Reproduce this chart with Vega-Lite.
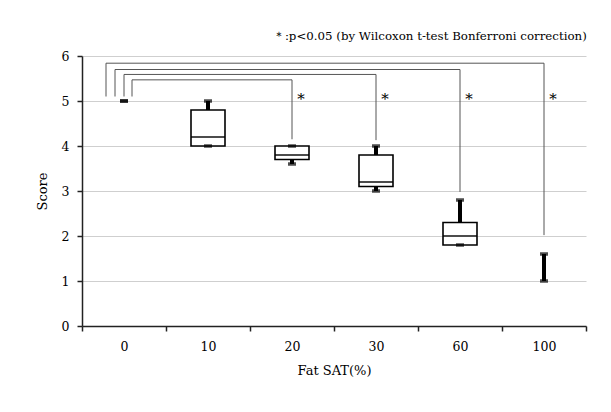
{
  "$schema": "https://vega.github.io/schema/vega-lite/v6.json",
  "width": 504,
  "height": 270,
  "autosize": "none",
  "padding": {"left": 82, "top": 56, "right": 25, "bottom": 86},
  "background": "white",
  "config": {"font": "DejaVu Serif", "view": {"stroke": null}},
  "title": {"text": "＊:p<0.05 (by Wilcoxon t-test Bonferroni correction)", "anchor": "end", "fontSize": 11.8, "fontWeight": "normal", "font": "DejaVu Serif", "color": "#000", "offset": 7},
  "datasets": {
    "boxes": [
      {"sat": "0", "min": 5, "q1": null, "median": null, "q3": null, "max": 5},
      {"sat": "10", "min": 4, "q1": 4, "median": 4.2, "q3": 4.8, "max": 5},
      {"sat": "20", "min": 3.6, "q1": 3.7, "median": 3.8, "q3": 4, "max": 4},
      {"sat": "30", "min": 3, "q1": 3.1, "median": 3.2, "q3": 3.8, "max": 4},
      {"sat": "60", "min": 1.8, "q1": 1.8, "median": 2, "q3": 2.3, "max": 2.8},
      {"sat": "100", "min": 1, "q1": null, "median": null, "q3": null, "max": 1.6}
    ],
    "brackets": [
      {"from": "0", "target": "20", "lvl": 4, "top": 5.47, "bottom": 4.15, "start": 5.1},
      {"from": "0", "target": "30", "lvl": 3, "top": 5.59, "bottom": 4.13, "start": 5.1},
      {"from": "0", "target": "60", "lvl": 2, "top": 5.7, "bottom": 2.98, "start": 5.1},
      {"from": "0", "target": "100", "lvl": 1, "top": 5.84, "bottom": 2.02, "start": 5.1}
    ]
  },
  "encoding": {
    "x": {
      "field": "sat",
      "type": "nominal",
      "scale": {"domain": ["0", "10", "20", "30", "60", "100"], "paddingInner": 0, "paddingOuter": 0},
      "axis": {
        "title": "Fat SAT(%)", "titleFontSize": 13, "titleFontWeight": "normal", "titleColor": "#000", "titlePadding": 12,
        "labelAngle": 0, "labelFontSize": 12.5, "labelColor": "#000", "labelPadding": 9,
        "tickBand": "extent", "tickSize": 5, "tickWidth": 1.5, "tickColor": "#222",
        "domainColor": "#222", "domainWidth": 1.5, "grid": false
      }
    }
  },
  "layer": [
    {
      "data": {"name": "boxes"},
      "layer": [
        {"mark": {"type": "rule", "color": "#000", "strokeWidth": 4}, "encoding": {"y": {"field": "min", "type": "quantitative", "scale": {"domain": [0, 6]}, "axis": {"values": [0, 1, 2, 3, 4, 5, 6], "title": "Score", "titleFontSize": 13, "titleFontWeight": "normal", "titleColor": "#000", "titlePadding": 12, "labelFontSize": 12.5, "labelColor": "#000", "labelPadding": 8, "tickSize": 5, "tickWidth": 1.5, "tickColor": "#222", "domainColor": "#222", "domainWidth": 1.5, "grid": true, "gridColor": "#cfcfcf", "gridWidth": 1}}, "y2": {"field": "max"}}},
        {"mark": {"type": "bar", "fill": "white", "stroke": "#000", "strokeWidth": 1.6, "width": 34}, "encoding": {"y": {"field": "q1", "type": "quantitative"}, "y2": {"field": "q3"}}},
        {"mark": {"type": "tick", "color": "#000", "size": 34, "thickness": 1.8}, "encoding": {"y": {"field": "median", "type": "quantitative"}}},
        {"mark": {"type": "tick", "color": "#000", "size": 8, "thickness": 3.5}, "encoding": {"y": {"field": "max", "type": "quantitative"}}},
        {"mark": {"type": "tick", "color": "#000", "size": 8, "thickness": 3.5}, "encoding": {"y": {"field": "min", "type": "quantitative"}}}
      ]
    },
    {
      "data": {"name": "brackets"},
      "layer": [
        {"transform": [{"filter": "datum.lvl == 1"}], "mark": {"type": "rule", "color": "#555", "strokeWidth": 1, "xOffset": -18}, "encoding": {"x": {"field": "from", "type": "nominal"}, "x2": {"field": "target"}, "y": {"field": "top", "type": "quantitative"}}},
        {"transform": [{"filter": "datum.lvl == 2"}], "mark": {"type": "rule", "color": "#555", "strokeWidth": 1, "xOffset": -9}, "encoding": {"x": {"field": "from", "type": "nominal"}, "x2": {"field": "target"}, "y": {"field": "top", "type": "quantitative"}}},
        {"transform": [{"filter": "datum.lvl == 3"}], "mark": {"type": "rule", "color": "#555", "strokeWidth": 1, "xOffset": 0}, "encoding": {"x": {"field": "from", "type": "nominal"}, "x2": {"field": "target"}, "y": {"field": "top", "type": "quantitative"}}},
        {"transform": [{"filter": "datum.lvl == 4"}], "mark": {"type": "rule", "color": "#555", "strokeWidth": 1, "xOffset": 8}, "encoding": {"x": {"field": "from", "type": "nominal"}, "x2": {"field": "target"}, "y": {"field": "top", "type": "quantitative"}}},
        {"transform": [{"filter": "datum.lvl == 1"}], "mark": {"type": "rule", "color": "#555", "strokeWidth": 1, "xOffset": -18}, "encoding": {"x": {"field": "from", "type": "nominal"}, "y": {"field": "start", "type": "quantitative"}, "y2": {"field": "top"}}},
        {"transform": [{"filter": "datum.lvl == 2"}], "mark": {"type": "rule", "color": "#555", "strokeWidth": 1, "xOffset": -9}, "encoding": {"x": {"field": "from", "type": "nominal"}, "y": {"field": "start", "type": "quantitative"}, "y2": {"field": "top"}}},
        {"transform": [{"filter": "datum.lvl == 3"}], "mark": {"type": "rule", "color": "#555", "strokeWidth": 1, "xOffset": 0}, "encoding": {"x": {"field": "from", "type": "nominal"}, "y": {"field": "start", "type": "quantitative"}, "y2": {"field": "top"}}},
        {"transform": [{"filter": "datum.lvl == 4"}], "mark": {"type": "rule", "color": "#555", "strokeWidth": 1, "xOffset": 8}, "encoding": {"x": {"field": "from", "type": "nominal"}, "y": {"field": "start", "type": "quantitative"}, "y2": {"field": "top"}}},
        {"mark": {"type": "rule", "color": "#555", "strokeWidth": 1}, "encoding": {"x": {"field": "target", "type": "nominal"}, "y": {"field": "top", "type": "quantitative"}, "y2": {"field": "bottom"}}},
        {"mark": {"type": "text", "text": "*", "fontSize": 15, "dx": 9, "dy": 2, "align": "center", "baseline": "middle", "color": "#000"}, "encoding": {"x": {"field": "target", "type": "nominal"}, "y": {"field": "start", "type": "quantitative"}}}
      ]
    }
  ]
}
